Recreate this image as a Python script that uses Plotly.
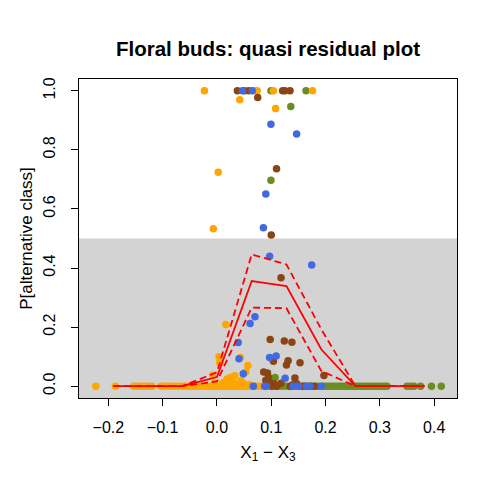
import plotly.graph_objects as go

# bin centres and fitted curve with bands (red lines)
bin_x = [-0.191, -0.127, -0.064, 0.0, 0.064, 0.128, 0.192, 0.255, 0.319, 0.382]
fit_mid = [0, 0, 0, 0.031, 0.356, 0.339, 0.125, 0, 0, 0]
fit_upper = [0, 0, 0, 0.047, 0.446, 0.412, 0.193, 0, 0, 0]
fit_lower = [0, 0, 0, 0.016, 0.266, 0.264, 0.052, 0, 0, 0]

# orange class
orange_x = [-0.223, -0.187, -0.153, -0.148, -0.142, -0.137, -0.131, -0.126, -0.12,
            -0.103, -0.098, -0.093, -0.087, -0.082, -0.076, -0.07, -0.063, -0.058,
            -0.052, -0.047, -0.041, -0.036, -0.03, -0.024, -0.019, -0.013, -0.008,
            -0.003, 0.002, 0.006, 0.011, 0.015, 0.02, 0.025, 0.03, 0.034, 0.039,
            0.044, 0.049, 0.054, 0.059, 0.064, 0.07, 0.076, 0.082,
            -0.023, 0.068, 0.074, 0.104, 0.176, 0.042, 0.108, 0.0024, -0.0067,
            0.0164, 0.004, 0.043, 0.005, 0.057, 0.053, 0.033, -0.008, 0.019, 0.025,
            0.044, 0.03, 0.01, 0.05, -0.005, 0.06, 0.015, 0.037]
orange_y = [0, 0, 0, 0, 0, 0, 0, 0, 0,
            0, 0, 0, 0, 0, 0, 0, 0, 0,
            0, 0, 0, 0, 0, 0, 0, 0, 0,
            0, 0, 0, 0, 0, 0, 0, 0, 0, 0,
            0, 0, 0, 0, 0, 0, 0, 0,
            1.0, 1.0, 1.0, 1.0, 1.0, 0.97, 0.94, 0.724, 0.533,
            0.209, 0.1, 0.097, 0.08, 0.07, 0.048, 0.035, 0.037, 0.024, 0.029,
            0.018, 0.012, 0.01, 0.008, 0.01, 0.005, 0.015, 0.006]

# green class
green_x = [0.0995, 0.164, 0.136, 0.0994, 0.107,
           0.104, 0.112, 0.12, 0.128, 0.135, 0.142, 0.15, 0.158, 0.165, 0.172,
           0.18, 0.187, 0.195, 0.2, 0.205, 0.21, 0.215, 0.22, 0.225, 0.23, 0.235,
           0.24, 0.245, 0.25, 0.255, 0.26, 0.265, 0.27, 0.275, 0.28, 0.285, 0.29,
           0.295, 0.3, 0.305, 0.31, 0.313, 0.35, 0.357, 0.363, 0.375, 0.395, 0.413]
green_y = [1.0, 1.0, 0.947, 0.697, 0.029,
           0, 0, 0, 0, 0, 0, 0, 0, 0, 0,
           0, 0, 0, 0, 0, 0, 0, 0, 0, 0, 0,
           0, 0, 0, 0, 0, 0, 0, 0, 0, 0, 0,
           0, 0, 0, 0, 0, 0, 0, 0, 0, 0, 0]

# brown class
brown_x = [0.0376, 0.05, 0.058, 0.121, 0.125, 0.1345, 0.075, 0.1097, 0.1, 0.118,
           0.098, 0.124, 0.138, 0.104, 0.131, 0.128, 0.153, 0.086, 0.093, 0.095,
           0.197, 0.1436, 0.09, 0.098, 0.105, 0.118, 0.14, 0.147, 0.174, 0.18,
           0.163, 0.11, 0.1, 0.135, 0.158]
brown_y = [1.0, 1.0, 1.0, 1.0, 1.0, 1.0, 0.977, 0.736, 0.512, 0.367,
           0.158, 0.153, 0.149, 0.084, 0.086, 0.072, 0.079, 0.048, 0.045, 0.03,
           0.036, 0.028, 0.02, 0.012, 0.008, 0.01, 0.005, 0.008, 0, 0,
           0, 0, 0, 0, 0]

# blue class
blue_x = [0.047, 0.065, 0.0994, 0.1467, 0.09, 0.0855, 0.097, 0.1745, 0.07, 0.061,
          0.039, 0.0406, 0.097, 0.109, 0.0485, 0.1255,
          0.067, 0.088, 0.091, 0.1406, 0.15, 0.165, 0.171, 0.192]
blue_y = [1.0, 1.0, 0.887, 0.854, 0.651, 0.536, 0.44, 0.41, 0.235, 0.212,
          0.148, 0.093, 0.097, 0.102, 0.042, 0.027,
          0, 0, 0, 0, 0, 0, 0, 0]

x_ticks = [-0.2, -0.1, 0.0, 0.1, 0.2, 0.3, 0.4]
y_ticks = [0.0, 0.2, 0.4, 0.6, 0.8, 1.0]
x_range = [-0.254, 0.442]
y_range = [-0.04, 1.04]

FONT = "Liberation Sans, Arial, Helvetica, sans-serif"

fig = go.Figure()

for xs, ys, col in [(green_x, green_y, "#6B8E23"),
                    (orange_x, orange_y, "#FFA500"),
                    (brown_x, brown_y, "#8B4513"),
                    (blue_x, blue_y, "#4169E1")]:
    fig.add_trace(go.Scatter(x=xs, y=ys, mode="markers",
                             marker=dict(color=col, size=7.5, line=dict(width=0)),
                             showlegend=False, hoverinfo="skip"))

fig.add_trace(go.Scatter(x=bin_x, y=fit_mid, mode="lines",
                         line=dict(color="red", width=1.8), showlegend=False))
for band in (fit_upper, fit_lower):
    fig.add_trace(go.Scatter(x=bin_x, y=band, mode="lines",
                             line=dict(color="red", width=1.8, dash="7px,4px"),
                             showlegend=False))

# grey region below 0.5
fig.add_shape(type="rect", xref="paper", yref="y", x0=0, x1=1,
              y0=y_range[0], y1=0.5, fillcolor="#D3D3D3", line=dict(width=0),
              layer="below")

# the page body adds an 8px offset, margins compensate for it
fig.update_layout(
    width=498, height=498,
    margin=dict(l=71, r=49, t=71, b=108, autoexpand=False),
    plot_bgcolor="white", paper_bgcolor="white",
    font=dict(family=FONT, color="black", size=16),
    title=dict(text="<b>Floral buds: quasi residual plot</b>",
               x=(71 + 378 / 2) / 498, xref="container", xanchor="center",
               y=1 - 41 / 498, yref="container", yanchor="middle",
               font=dict(size=20.5, family=FONT, color="black")),
)

fig.update_xaxes(range=x_range, tickvals=x_ticks, tickformat=".1f",
                 showgrid=False, zeroline=False,
                 showline=True, linecolor="black", linewidth=1, mirror=True,
                 ticks="outside", ticklen=7, tickcolor="black",
                 ticklabelstandoff=8,
                 title=dict(text="X<sub>1</sub> \u2212 X<sub>3</sub>",
                            font=dict(size=17), standoff=10))
fig.update_yaxes(range=y_range, tickvals=y_ticks, tickformat=".1f",
                 tickangle=-90,
                 showgrid=False, zeroline=False,
                 showline=True, linecolor="black", linewidth=1, mirror=True,
                 ticks="outside", ticklen=7, tickcolor="black",
                 ticklabelstandoff=10,
                 title=dict(text="P[alternative class]",
                            font=dict(size=17), standoff=3))

fig.write_html("out.html")
